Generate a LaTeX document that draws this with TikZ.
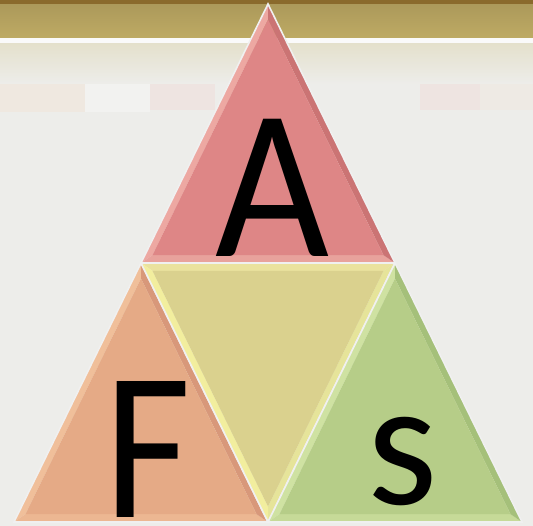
\documentclass[tikz,border=0pt]{standalone}
\usepackage{fontspec}
\setmainfont{Carlito}
\usetikzlibrary{calc}
\definecolor{bgmain}{HTML}{EDEDEA}
\definecolor{bandd}{HTML}{8A6A2C}
\definecolor{bandg}{HTML}{BEAA64}
\definecolor{beige}{HTML}{E4E0CB}
\definecolor{redm}{HTML}{DE8686}
\definecolor{redl}{HTML}{EDA8A2}
\definecolor{redb}{HTML}{E8A29C}
\definecolor{redd}{HTML}{CB7474}
\definecolor{orm}{HTML}{E5AA86}
\definecolor{orl}{HTML}{F0BF9A}
\definecolor{orb}{HTML}{ECB792}
\definecolor{ord}{HTML}{D8987A}
\definecolor{yem}{HTML}{DAD18E}
\definecolor{yet}{HTML}{EAE29E}
\definecolor{yer}{HTML}{E6E49A}
\definecolor{yel}{HTML}{F2EE9E}
\definecolor{grm}{HTML}{B6CD88}
\definecolor{grl}{HTML}{CFE2A2}
\definecolor{grb}{HTML}{C6DA98}
\definecolor{grd}{HTML}{A5C07A}
\newcommand\bevtri[7]{%
  \coordinate (bc) at (barycentric cs:#1=1,#2=1,#3=1);
  \coordinate (ia) at ($(#1)!0.09!(bc)$);
  \coordinate (ib) at ($(#2)!0.09!(bc)$);
  \coordinate (ic) at ($(#3)!0.09!(bc)$);
  \fill[#5] (#1)--(#2)--(ib)--(ia)--cycle;
  \fill[#6] (#2)--(#3)--(ic)--(ib)--cycle;
  \fill[#7] (#3)--(#1)--(ia)--(ic)--cycle;
  \fill[#4] (ia)--(ib)--(ic)--cycle;
  \draw[gapline] (#1)--(#2)--(#3)--cycle;
}
\tikzset{
  gapline/.style={draw=white!88!gray, line width=1.6pt, line join=miter},
  letter/.style={inner sep=0pt, text=black, anchor=base},
}
\begin{document}
\begin{tikzpicture}[x=1pt,y=-1pt]
\useasboundingbox (0,0) rectangle (533,526);
% background
\fill[bgmain] (0,0) rectangle (533,526);
\shade[top color=beige, bottom color=bgmain] (0,42) rectangle (533,84);
\fill[orange!40, opacity=0.12] (0,84) rectangle (85,112);
\fill[white, opacity=0.3] (85,84) rectangle (150,112);
\fill[red!40, opacity=0.1] (150,84) rectangle (215,110);
\fill[red!40, opacity=0.1] (420,84) rectangle (480,110);
\fill[orange!30, opacity=0.1] (480,84) rectangle (533,110);
\fill[white!96!gray] (0,38) rectangle (533,43);
\shade[top color=bandg!90!black, bottom color=bandg] (0,3) rectangle (533,38);
\fill[bandd] (0,0) rectangle (533,4);
% triangle corners
\coordinate (T) at (268,4);
\coordinate (L) at (14,522);
\coordinate (R) at (522,522);
\coordinate (ML) at ($(T)!0.5!(L)$);
\coordinate (MR) at ($(T)!0.5!(R)$);
\coordinate (MB) at ($(L)!0.5!(R)$);
\bevtri{T}{ML}{MR}{redm}{redl}{redb}{redd}
\bevtri{ML}{L}{MB}{orm}{orl}{orb}{ord}
\bevtri{ML}{MR}{MB}{yem}{yet}{yer}{yel}
\bevtri{MR}{MB}{R}{grm}{grl}{grb}{grd}
% letters
\node[letter, xscale=0.92, font=\fontsize{214}{214}\selectfont] (a) at (272,257) {A};
\node[letter, xscale=0.89, font=\fontsize{212}{212}\selectfont] (f) at (148,518) {F};
\node[letter, font=\fontsize{180}{180}\selectfont] (s) at (403,504) {s};
\end{tikzpicture}
\end{document}
